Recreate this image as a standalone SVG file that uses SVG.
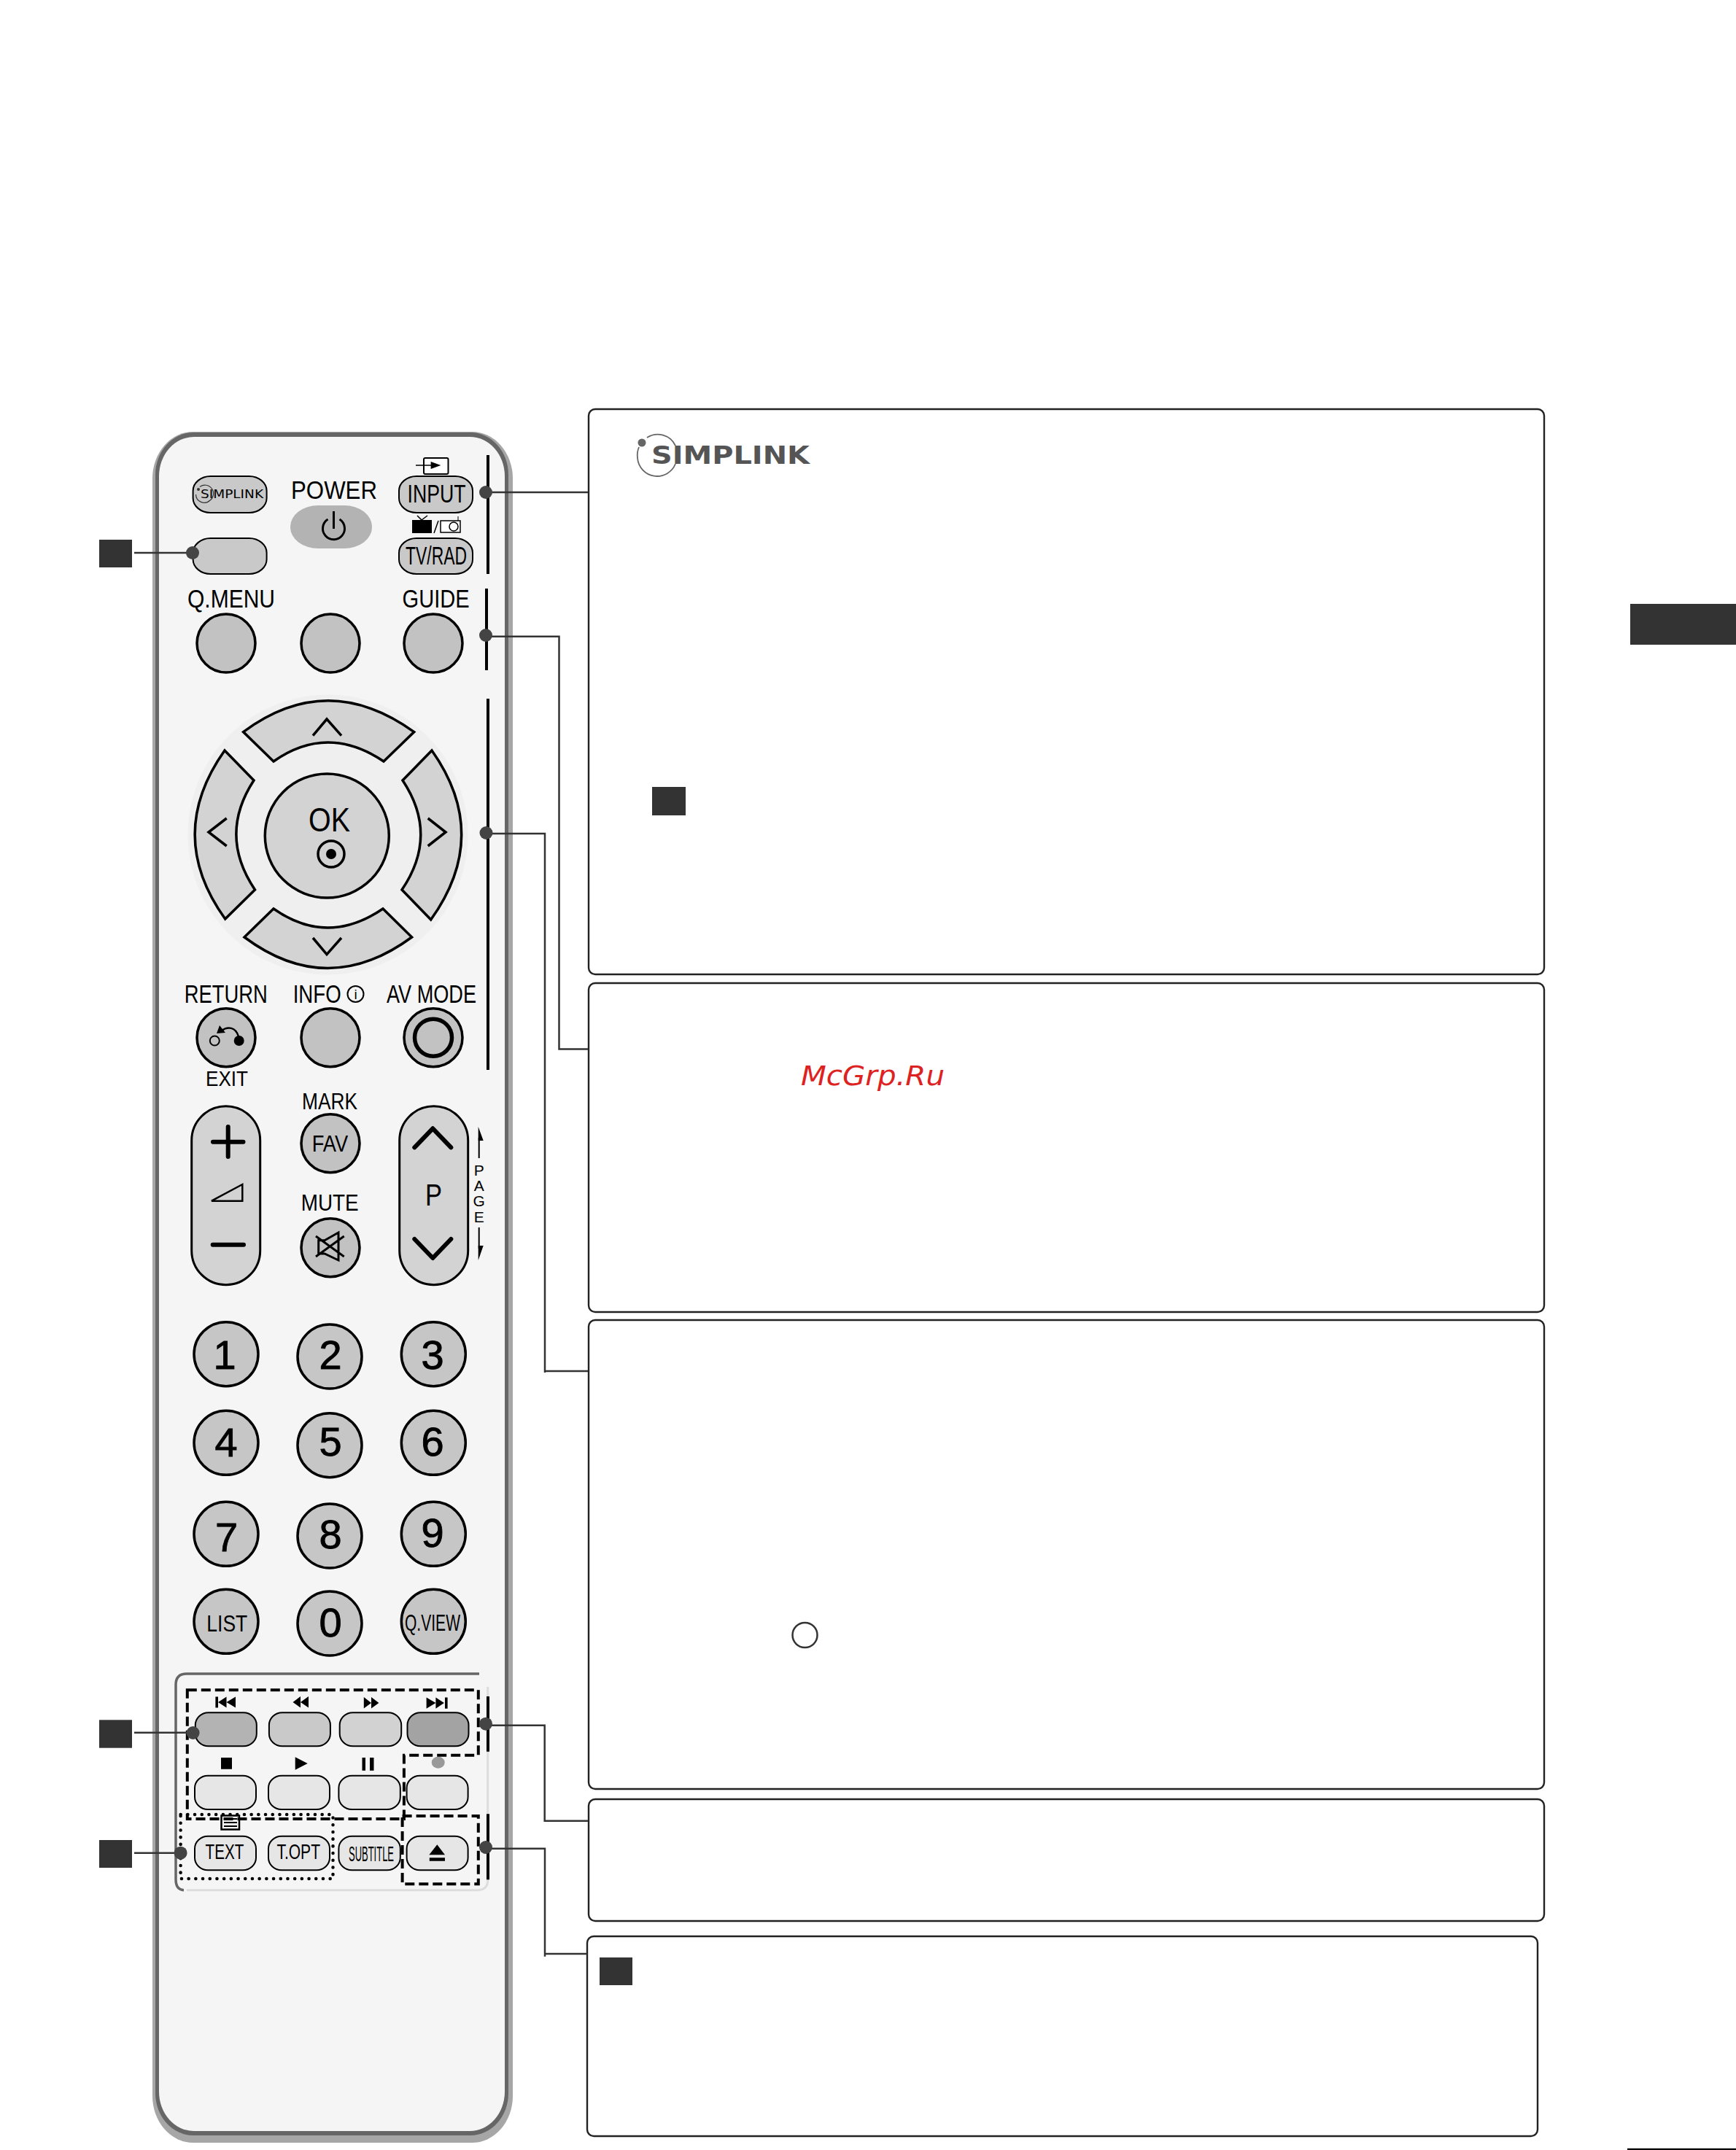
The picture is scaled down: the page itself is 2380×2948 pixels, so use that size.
<svg xmlns="http://www.w3.org/2000/svg" width="2380" height="2948" viewBox="0 0 2380 2948">
<style>
text{font-family:"Liberation Sans",Arial,sans-serif;fill:#000}
.l{font-size:35px}
.d{font-size:56px;text-anchor:middle;stroke:#000;stroke-width:.9}
.panel{fill:#fff;stroke:#222;stroke-width:2.4}
.sq{fill:#333}
.c{fill:#c2c2c2;stroke:#000;stroke-width:3.5}
.cd{fill:#c6c6c6;stroke:#000;stroke-width:3.5}
.b{stroke:#000;stroke-width:2;fill:#c9c9c9}
.pl{fill:#e6e6e6;stroke:#000;stroke-width:2}
.dp{fill:#d3d3d3;stroke:#000;stroke-width:3.5;stroke-linejoin:miter}
.pill{fill:#d3d3d3;stroke:#000;stroke-width:3}
.ch{fill:none;stroke:#000;stroke-width:3.5}
.chb{fill:none;stroke:#000;stroke-width:6;stroke-linecap:round;stroke-linejoin:round}
.bar{stroke:#000;stroke-width:4;fill:none}
.dash{fill:none;stroke:#000;stroke-width:4;stroke-dasharray:13 6}
.dot{fill:none;stroke:#000;stroke-width:4.5;stroke-dasharray:.1 9.6;stroke-linecap:round}
.conn{fill:none;stroke:#333;stroke-width:2.5}
.pin{fill:#444}
.ic{fill:#000}
</style>
<rect id="page-bg" width="2380" height="2948" fill="#fff"/>
<rect id="page-tab" class="sq" x="2235" y="828" width="145" height="56"/>
<line id="page-rule" x1="2231" y1="2947" x2="2380" y2="2947" stroke="#000" stroke-width="2.4"/>

<g id="panel-1"><rect class="panel" x="807" y="561" width="1310" height="775" rx="9"/>
<g id="simplink-logo"><path d="M887 600A27 27 0 0 1 926 611M926 636A27 27 0 0 1 874 628Q873 620 876 613" fill="none" stroke="#666" stroke-width="1.8"/><circle cx="880" cy="607" r="5.5" fill="#666"/><text x="893" y="636" font-size="33" font-weight="700" textLength="217" lengthAdjust="spacingAndGlyphs" style="fill:#555;font-family:'DejaVu Sans',sans-serif">SIMPLINK</text></g>
<rect class="sq" x="894" y="1079" width="46" height="39"/></g>
<g id="panel-2"><rect class="panel" x="807" y="1348" width="1310" height="451" rx="9"/>
<text x="1098" y="1488" font-size="38" font-style="italic" textLength="197" lengthAdjust="spacingAndGlyphs" style="fill:#dd2222;font-family:'DejaVu Sans',sans-serif">McGrp.Ru</text></g>
<g id="panel-3"><rect class="panel" x="807" y="1810" width="1310" height="643" rx="9"/>
<circle cx="1103.500" cy="2242" r="17" fill="none" stroke="#333" stroke-width="2.500"/></g>
<g id="panel-4"><rect class="panel" x="807" y="2467" width="1310" height="167" rx="9"/></g>
<g id="panel-5"><rect class="panel" x="805" y="2655" width="1303" height="274" rx="9"/>
<rect class="sq" x="822" y="2684" width="45" height="38"/></g>

<g id="remote-body">
<rect x="209" y="592" width="494" height="2346" rx="56" ry="64" fill="#a6a6a6"/>
<rect x="213" y="593" width="484" height="2335" rx="52" ry="58" fill="#666"/>
<rect x="218" y="599" width="474" height="2323" rx="48" ry="54" fill="#f5f5f5"/>
</g>

<g id="btn-simplink"><rect class="b" x="264.600" y="653" width="101" height="50" rx="24" ry="20"/>
<path d="M274 667.500A11.500 11.500 0 1 1 288 686A11.500 11.500 0 0 1 268.500 678" fill="none" stroke="#333" stroke-width="1.200"/><circle cx="272" cy="671" r="2" fill="#333"/>
<text x="275" y="683" font-size="16" textLength="86" lengthAdjust="spacingAndGlyphs" style="font-family:'DejaVu Sans',sans-serif">SIMPLINK</text></g>
<g id="btn-blank"><rect class="b" x="264.600" y="738" width="101" height="49" rx="24" ry="20"/></g>
<g id="btn-power"><text class="l" x="399" y="684" textLength="118" lengthAdjust="spacingAndGlyphs">POWER</text>
<rect x="398" y="693" width="112" height="59" rx="38" ry="29" fill="#b3b3b3"/>
<path d="M449.500 712A15 15 0 1 0 465.500 712M457.500 701V725" fill="none" stroke="#000" stroke-width="3"/></g>
<g id="btn-input"><rect x="581" y="628" width="33.500" height="22" rx="2" fill="#fff" stroke="#000" stroke-width="2"/><path d="M570 638H592" stroke="#000" stroke-width="1.500"/><path d="M590.600 633L604.400 638L590.600 643Z" class="ic"/>
<rect class="b" x="547" y="653" width="101" height="50" rx="24" ry="20"/>
<text class="l" x="558.500" y="689" textLength="80" lengthAdjust="spacingAndGlyphs">INPUT</text></g>
<g id="btn-tvrad"><path d="M572 707L578 713L586 707" fill="none" stroke="#000" stroke-width="1.500"/><rect class="ic" x="565" y="713" width="27" height="18"/><path d="M595 731L601 714" stroke="#000" stroke-width="1.500"/><rect x="604" y="714" width="27" height="16" fill="#fff" stroke="#000" stroke-width="1.500"/><circle cx="622" cy="722" r="6" fill="#fff" stroke="#000" stroke-width="1.500"/><path d="M628 714V708" stroke="#000" stroke-width="1"/>
<rect class="b" x="547" y="738" width="101" height="49" rx="24" ry="20"/>
<text class="l" x="556" y="774" textLength="84" lengthAdjust="spacingAndGlyphs">TV/RAD</text></g>
<g id="btn-qmenu"><text class="l" x="257" y="833" textLength="120" lengthAdjust="spacingAndGlyphs">Q.MENU</text><circle class="c" cx="310" cy="882" r="40"/></g>
<g id="btn-mid"><circle class="c" cx="453" cy="882" r="40"/></g>
<g id="btn-guide"><text class="l" x="551.600" y="833" textLength="92" lengthAdjust="spacingAndGlyphs">GUIDE</text><circle class="c" cx="594" cy="882" r="40"/></g>

<g id="dpad">
<circle cx="449.500" cy="1144.500" r="192" fill="#efefef"/>
<path id="dp-up" class="dp" d="M333.600 1003.600Q449 918 567.700 1003.600L526 1044Q449 992 375 1044Z"/>
<path id="dp-down" class="dp" d="M335 1285Q449 1370 564.600 1285L525 1246Q449 1298 375 1246Z"/>
<path id="dp-left" class="dp" d="M308 1029Q226 1145 308.700 1260L349.500 1220Q299 1145 348 1070Z"/>
<path id="dp-right" class="dp" d="M592 1029Q674 1145 590.700 1261L551 1220Q602 1145 552 1070Z"/>
<path class="ch" d="M429 1008.600L448 986L468 1008.600M429 1286L448 1308.600L468 1286M310.700 1122L286 1141L310.700 1160M586.700 1122L611 1141L586.700 1160"/>
<circle class="dp" cx="448.300" cy="1146" r="85"/>
<text x="423" y="1140" font-size="46" textLength="57" lengthAdjust="spacingAndGlyphs">OK</text>
<circle cx="454" cy="1171" r="18" fill="none" stroke="#000" stroke-width="3.500"/><circle class="ic" cx="454" cy="1171" r="7"/>
</g>

<g id="btn-return"><text class="l" x="252.700" y="1375" textLength="114" lengthAdjust="spacingAndGlyphs">RETURN</text><circle class="c" cx="310" cy="1422.700" r="40"/>
<circle cx="294.300" cy="1427" r="6.500" fill="none" stroke="#000" stroke-width="2"/><circle class="ic" cx="327.700" cy="1427" r="7"/><path d="M327 1421C323 1408 312 1407 304 1413" fill="none" stroke="#000" stroke-width="2.500"/><path class="ic" d="M297 1417L301 1406L309 1416Z"/>
<text x="282" y="1489" font-size="30" textLength="58" lengthAdjust="spacingAndGlyphs">EXIT</text></g>
<g id="btn-info"><text class="l" x="401.700" y="1375" textLength="66" lengthAdjust="spacingAndGlyphs">INFO</text><circle cx="487.500" cy="1363" r="11" fill="none" stroke="#000" stroke-width="2"/><text x="487.500" y="1370" font-size="19" text-anchor="middle">i</text><circle class="c" cx="453" cy="1422.700" r="40"/></g>
<g id="btn-avmode"><text class="l" x="530" y="1375" textLength="123" lengthAdjust="spacingAndGlyphs">AV MODE</text><circle class="c" cx="594" cy="1422.700" r="40"/><circle cx="594" cy="1422.700" r="25.500" fill="none" stroke="#000" stroke-width="5.500"/></g>

<g id="btn-volume"><rect class="pill" x="262.700" y="1516.700" width="94" height="245" rx="47"/>
<path class="chb" d="M292 1565.700H333.500M312.700 1545V1586M291.700 1706.700H334"/>
<path d="M290 1646.700L332.300 1624V1646.700Z" fill="none" stroke="#000" stroke-width="2.500"/></g>
<g id="btn-fav"><text x="414" y="1520.700" font-size="32" textLength="76" lengthAdjust="spacingAndGlyphs">MARK</text><circle class="c" cx="453" cy="1567.700" r="40"/><text x="427.700" y="1578.700" font-size="32" textLength="49.500" lengthAdjust="spacingAndGlyphs">FAV</text></g>
<g id="btn-mute"><text x="412.700" y="1660" font-size="32" textLength="79" lengthAdjust="spacingAndGlyphs">MUTE</text><circle class="c" cx="453" cy="1710.700" r="40"/>
<path d="M436.700 1700.700H445L464 1690V1728L445 1719H436.700ZM433 1695L471.700 1723M471.700 1695L433 1723" fill="none" stroke="#000" stroke-width="3"/></g>
<g id="btn-program"><rect class="pill" x="547.700" y="1516.700" width="94" height="245" rx="47"/>
<path class="chb" d="M568.300 1573.300L593.300 1547.300L618.300 1573.300M568.300 1699L593.300 1725L618.300 1699"/>
<text x="583" y="1652.700" font-size="42" textLength="23" lengthAdjust="spacingAndGlyphs">P</text></g>
<g id="page-label">
<path d="M656.700 1588V1560M656.700 1683V1712" stroke="#000" stroke-width="2" fill="none"/><path class="ic" d="M655.700 1545L662.700 1564H655.700ZM655.700 1728L662.700 1708H655.700Z"/>
<text font-size="21" text-anchor="middle"><tspan x="656.700" y="1611.700">P</tspan><tspan x="656.700" y="1632.700">A</tspan><tspan x="656.700" y="1654">G</tspan><tspan x="656.700" y="1676">E</tspan></text></g>

<g id="numpad">
<g id="key-1"><circle class="cd" cx="310" cy="1856.700" r="44"/><text class="d" x="308" y="1877">1</text></g>
<g id="key-2"><circle class="cd" cx="452" cy="1860" r="44"/><text class="d" x="453" y="1876.700">2</text></g>
<g id="key-3"><circle class="cd" cx="594.300" cy="1856.700" r="44"/><text class="d" x="593" y="1876.700">3</text></g>
<g id="key-4"><circle class="cd" cx="310" cy="1978.300" r="44"/><text class="d" x="310" y="1997">4</text></g>
<g id="key-5"><circle class="cd" cx="452" cy="1981.700" r="44"/><text class="d" x="453" y="1995.700">5</text></g>
<g id="key-6"><circle class="cd" cx="594.300" cy="1978.300" r="44"/><text class="d" x="593" y="1995.700">6</text></g>
<g id="key-7"><circle class="cd" cx="310" cy="2103.300" r="44"/><text class="d" x="310.700" y="2126.700">7</text></g>
<g id="key-8"><circle class="cd" cx="452" cy="2106" r="44"/><text class="d" x="453" y="2123">8</text></g>
<g id="key-9"><circle class="cd" cx="594.300" cy="2103.300" r="44"/><text class="d" x="593" y="2120.700">9</text></g>
<g id="key-list"><circle class="cd" cx="310" cy="2223.300" r="44"/><text x="283.300" y="2237.300" font-size="32" textLength="56" lengthAdjust="spacingAndGlyphs">LIST</text></g>
<g id="key-0"><circle class="cd" cx="452" cy="2226" r="44"/><text class="d" x="453" y="2244">0</text></g>
<g id="key-qview"><circle class="cd" cx="594.300" cy="2223.300" r="44"/><text x="555" y="2236" font-size="32" textLength="76" lengthAdjust="spacingAndGlyphs">Q.VIEW</text></g>
</g>

<g id="media-inset">
<path d="M668.700 2313V2578Q668.700 2591.700 654 2591.700H256" fill="none" stroke="#ddd" stroke-width="3"/>
<path d="M657 2295H256Q241 2295 241 2310V2577Q241 2591 252 2591.700" fill="none" stroke="#666" stroke-width="3.500"/>
</g>
<g id="media-buttons">
<rect class="b" style="fill:#b3b3b3" x="267.800" y="2348.300" width="84" height="46" rx="18" ry="17"/>
<rect class="b" style="fill:#c9c9c9" x="368.900" y="2348.300" width="84" height="46" rx="18" ry="17"/>
<rect class="b" style="fill:#d2d2d2" x="465.700" y="2348.300" width="84.500" height="46" rx="18" ry="17"/>
<rect class="b" style="fill:#a3a3a3" x="558.500" y="2348.300" width="84" height="46" rx="18" ry="17"/>
<rect class="pl" x="267" y="2434.700" width="84" height="46.300" rx="18" ry="17"/>
<rect class="pl" x="368" y="2434.700" width="84" height="46.300" rx="18" ry="17"/>
<rect class="pl" x="464.400" y="2434.700" width="84.400" height="46.300" rx="18" ry="17"/>
<rect class="pl" x="557.600" y="2434.700" width="84" height="46.300" rx="18" ry="17"/>
<rect class="pl" x="267" y="2517.700" width="84" height="46.600" rx="18" ry="17"/>
<rect class="pl" x="368" y="2517.700" width="84" height="46.600" rx="18" ry="17"/>
<rect class="pl" x="464.400" y="2517.700" width="84.400" height="46.600" rx="18" ry="17"/>
<rect class="pl" x="557.600" y="2517.700" width="84" height="46.600" rx="18" ry="17"/>
<path class="ic" d="M295.400 2326.500H299V2341.500H295.400ZM310.500 2326.500V2341.500L299 2334ZM323 2326.500V2341.500L310.500 2334ZM412 2326V2341.500L401.500 2334ZM423 2326V2341.500L412 2334ZM498.800 2327V2342.500L509 2335ZM509 2327V2342.500L519.400 2335ZM584.600 2327.500V2342.700L597.400 2335ZM597.400 2327.500V2342.700L608.900 2335ZM610 2327.500H613.600V2342.700H610ZM303 2410H318V2425.700H303ZM404.700 2409.300L421.700 2418L404.700 2426.700ZM496.500 2410H501V2427.700H496.500ZM507 2410H512.500V2427.700H507ZM588.300 2543.300L599.300 2529.300L610 2543.300ZM588.800 2547.300H610V2551.700H588.800Z"/>
<ellipse cx="600.700" cy="2416.700" rx="9" ry="8" fill="#999"/>
<g id="text-icon"><rect x="303.500" y="2489.500" width="24.500" height="19" fill="#f5f5f5" stroke="#000" stroke-width="2.500"/><path d="M307 2494H325M307 2499H325M307 2504H325" stroke="#000" stroke-width="2"/></g>
<text x="281.600" y="2549.300" font-size="29" textLength="52.800" lengthAdjust="spacingAndGlyphs">TEXT</text>
<text x="379.400" y="2549.300" font-size="29" textLength="59.600" lengthAdjust="spacingAndGlyphs">T.OPT</text>
<text x="478" y="2551.700" font-size="30" textLength="62" lengthAdjust="spacingAndGlyphs">SUBTITLE</text>
</g>
<g id="media-groups">
<path class="dash" d="M256.800 2317.300H655.800V2406.700H553.900V2494H256.800Z"/>
<path class="dash" d="M551.600 2490H655.800V2583.300H551.600Z"/>
<rect class="dot" x="247.600" y="2488" width="208.900" height="88"/>
</g>

<g id="connectors">
<path class="bar" d="M669 624V787M667 807V919M669 958V1467M669 2326V2401.700M669 2487.300V2577.300"/>
<path class="conn" d="M666 675H806"/>
<path class="conn" d="M666 872.700H766.500V1438.500H806"/>
<path class="conn" d="M666 1143H747V1882M747 1880H806"/>
<path class="conn" d="M666 2365.700H746.700V2496.700H806"/>
<path class="conn" d="M666 2534.700H747V2682.700M747 2679H805"/>
<path class="conn" d="M184 758H264M184 2375.700H264.600M184 2540.700H247.600"/>
<rect class="sq" x="136" y="740" width="45" height="38"/>
<rect class="sq" x="136" y="2358.300" width="45" height="38.400"/>
<rect class="sq" x="136" y="2523" width="45" height="38"/>
<circle class="pin" cx="666" cy="675" r="9"/>
<circle class="pin" cx="666" cy="871" r="9"/>
<circle class="pin" cx="666.500" cy="1142" r="9"/>
<circle class="pin" cx="666" cy="2363.700" r="9"/>
<circle class="pin" cx="666" cy="2533" r="9"/>
<circle class="pin" cx="264" cy="758" r="9"/>
<circle class="pin" cx="264.600" cy="2376" r="9"/>
<circle class="pin" cx="247.600" cy="2540.700" r="9"/>
</g>
</svg>
